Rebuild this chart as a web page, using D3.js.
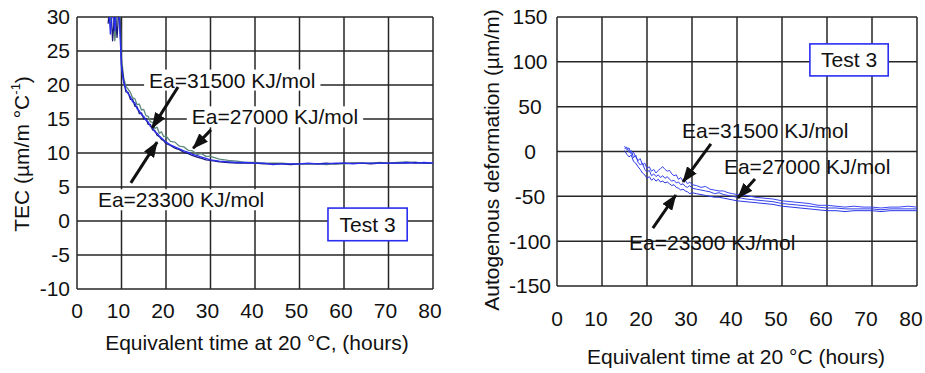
<!DOCTYPE html>
<html>
<head>
<meta charset="utf-8">
<script src="https://cdn.jsdelivr.net/npm/d3@7"></script>
<style>
body { margin: 0; background: #fff; }
svg text { font-family: "Liberation Sans", Arial, sans-serif; fill: #111; }
</style>
</head>
<body>
<div id="chart"></div>
<script>
// ---- left panel: TEC vs equivalent time ----
var tecHours = [7,7.5,8,8.5,9,9.5,10,10.5,11,11.5,12,12.5,13,13.5,14,14.5,15,15.5,16,16.5,17,17.5,18,18.5,19,19.5,20,
    21,22,23,24,25,26,27,28,29,30,
    32,34,36,38,40,42,44,46,48,50,52,54,56,58,60,62,64,66,68,70,72,74,76,78,80];
var tecEa31500 = [33,27.5,32,28,33,30,22.5,20.4,19.3,18.7,18.3,17.5,17.4,16.5,16.2,15.6,15.4,14.8,14.6,13.9,13.7,13.1,12.9,12.5,12.2,11.9,11.6,
    11.2,10.9,10.6,10.3,10.1,9.8,9.6,9.4,9.2,9.0,
    8.8,8.7,8.6,8.6,8.5,8.5,8.3,8.4,8.4,8.4,8.5,8.4,8.4,8.5,8.5,8.4,8.5,8.5,8.5,8.5,8.5,8.6,8.5,8.6,8.5];
var tecEa23300 = [29,33,26.5,31,27,32,23,20.6,19.0,18.9,17.9,17.9,16.9,16.8,15.8,15.9,15.0,15.1,14.2,14.2,13.4,13.3,12.6,12.4,12.0,11.8,11.4,
    11.1,10.7,10.5,10.1,9.9,9.6,9.4,9.2,9.0,8.9,
    8.7,8.6,8.5,8.5,8.5,8.4,8.4,8.4,8.3,8.4,8.4,8.4,8.5,8.4,8.5,8.5,8.5,8.4,8.5,8.5,8.5,8.5,8.6,8.5,8.5];
var tecEa27000 = [31,29,34,26.5,30,34,24,21,19.8,19.4,18.9,18.1,18.0,17.1,17.2,16.3,16.4,15.5,15.4,14.6,14.5,13.6,13.8,12.9,13.1,12.4,12.5,
    11.7,11.6,11.0,10.9,10.4,10.3,9.8,9.9,9.5,9.5,
    9.1,8.9,8.8,8.6,8.6,8.5,8.5,8.5,8.4,8.4,8.4,8.4,8.3,8.4,8.4,8.5,8.5,8.5,8.6,8.5,8.6,8.7,8.6,8.5,8.5];
var tecTicksY = [-10,-5,0,5,10,15,20,25,30];

// ---- right panel: autogenous deformation ----
var adHours = [15,15.5,16,16.5,17,17.5,18,18.5,19,19.5,20,20.5,21,21.5,22,22.5,23,23.5,24,24.5,25,25.5,26,26.5,27,27.5,28,28.5,29,29.5,30,
    31,32,33,34,35,36,37,38,39,40,
    42,44,46,48,50,52,54,56,58,60,62,64,66,68,70,72,74,76,78,80];
var adEa31500 = [6,2,4,-3,-1,-6,-10,-8,-15,-13,-19,-17,-22,-20,-24,-21,-19,-17,-20,-22,-21,-25,-27,-26,-31,-29,-33,-32,-36,-34,-37,
    -38,-40,-39,-42,-43,-44,-44,-46,-47,-48,
    -49,-51,-52,-53,-55,-56,-57,-58,-60,-60,-61,-62,-61,-62,-62,-63,-62,-62,-61,-62];
var adEa27000 = [3,5,-1,1,-7,-4,-12,-15,-13,-20,-23,-21,-27,-25,-28,-26,-29,-27,-30,-28,-31,-33,-32,-35,-34,-37,-36,-39,-40,-38,-41,
    -42,-43,-44,-45,-47,-46,-48,-49,-50,-51,
    -53,-54,-55,-56,-58,-59,-60,-61,-62,-63,-63,-64,-64,-64,-64,-65,-64,-64,-64,-64];
var adEa23300 = [1,-3,-6,-4,-11,-13,-17,-20,-24,-26,-30,-28,-32,-30,-33,-31,-34,-33,-35,-34,-36,-38,-37,-40,-41,-43,-42,-44,-45,-47,-46,
    -47,-48,-49,-50,-51,-51,-52,-53,-54,-55,
    -56,-57,-58,-59,-61,-62,-63,-64,-65,-66,-66,-67,-66,-66,-66,-67,-66,-66,-66,-66];
var adTicksY = [-150,-100,-50,0,50,100,150];

var hourTicks = [0,10,20,30,40,50,60,70,80];
var eaLabels = ["Ea=31500 KJ/mol", "Ea=27000 KJ/mol", "Ea=23300 KJ/mol"];

function init(){
    var W = 925, H = 373;
    var svg = d3.select("#chart")
                .append("svg")
                .attr("width", W)
                .attr("height", H);

    var defs = svg.append("defs");
    defs.append("marker")
        .attr("id", "head")
        .attr("markerUnits", "userSpaceOnUse")
        .attr("viewBox", "0 0 16 12")
        .attr("refX", 15).attr("refY", 6)
        .attr("markerWidth", 16).attr("markerHeight", 12)
        .attr("orient", "auto")
        .append("path")
        .attr("d", "M0,0 L16,6 L0,12 Z")
        .attr("fill", "#111");

    function panel(p) {
        var g = svg.append("g");
        var x = d3.scaleLinear().domain([0, 80]).range([p.left, p.right]);
        var y = d3.scaleLinear().domain(p.yDomain).range([p.bottom, p.top]);

        defs.append("clipPath").attr("id", p.id)
            .append("rect")
            .attr("x", p.left).attr("y", p.top)
            .attr("width", p.right - p.left).attr("height", p.bottom - p.top);

        // grid
        g.selectAll(".vg").data(hourTicks).enter().append("line")
            .attr("x1", function(d) { return x(d); })
            .attr("x2", function(d) { return x(d); })
            .attr("y1", p.top).attr("y2", p.bottom)
            .attr("stroke", "#262626").attr("stroke-width", 1.5);
        g.selectAll(".hg").data(p.yTicks).enter().append("line")
            .attr("y1", function(d) { return y(d); })
            .attr("y2", function(d) { return y(d); })
            .attr("x1", p.left).attr("x2", p.right)
            .attr("stroke", "#262626").attr("stroke-width", 1.5);

        // tick labels
        g.selectAll(".xl").data(hourTicks).enter().append("text")
            .attr("x", function(d) { return x(d) + (d > 0 ? p.xLabelShift : 0); })
            .attr("y", p.xLabelY)
            .attr("dy", "0.35em")
            .attr("text-anchor", "middle")
            .attr("font-size", 21)
            .text(function(d) { return d; });
        g.selectAll(".yl").data(p.yTicks).enter().append("text")
            .attr("x", p.yLabelX)
            .attr("y", function(d) { return y(d); })
            .attr("dy", "0.35em")
            .attr("text-anchor", p.yLabelAnchor)
            .attr("font-size", 21)
            .text(function(d) { return d; });

        // x title
        g.append("text")
            .attr("x", p.xTitleX).attr("y", p.xTitleY)
            .attr("dy", "0.35em")
            .attr("text-anchor", "middle")
            .attr("font-size", 21)
            .text(p.xTitle);

        // label backgrounds + labels
        p.notes.forEach(function(n, i) {
            var t = g.append("text")
                .attr("x", x(n.t)).attr("y", y(n.v))
                .attr("dy", "0.35em")
                .attr("font-size", 21)
                .text(eaLabels[i]);
            if (p.noteBg) {
                var bb = t.node().getBBox();
                g.insert("rect", function() { return t.node(); })
                    .attr("x", bb.x - 5).attr("y", bb.y + 1)
                    .attr("width", bb.width + 10).attr("height", bb.height - 2)
                    .attr("fill", "#fff");
            }
        });

        // curves
        var line = d3.line()
            .x(function(d) { return x(d[0]); })
            .y(function(d) { return y(d[1]); });
        var cg = g.append("g").attr("clip-path", "url(#" + p.id + ")");
        p.series.forEach(function(s) {
            cg.append("path")
                .datum(d3.zip(p.hours, s.values))
                .attr("d", line)
                .attr("fill", "none")
                .attr("stroke", s.color)
                .attr("stroke-width", s.width)
                .attr("stroke-linejoin", "round");
        });

        // arrows
        p.arrows.forEach(function(a) {
            g.append("line")
                .attr("x1", x(a[0])).attr("y1", y(a[1]))
                .attr("x2", x(a[2])).attr("y2", y(a[3]))
                .attr("stroke", "#111").attr("stroke-width", 3)
                .attr("marker-end", "url(#head)");
        });

        // Test 3 box
        g.append("rect")
            .attr("x", x(p.box[0])).attr("y", y(p.box[1]))
            .attr("width", x(p.box[2]) - x(p.box[0]))
            .attr("height", y(p.box[3]) - y(p.box[1]))
            .attr("fill", "#fff")
            .attr("stroke", "#2a2ef0").attr("stroke-width", 1.6);
        g.append("text")
            .attr("x", (x(p.box[0]) + x(p.box[2])) / 2)
            .attr("y", (y(p.box[1]) + y(p.box[3])) / 2)
            .attr("dy", "0.35em")
            .attr("text-anchor", "middle")
            .attr("font-size", 21)
            .text("Test 3");

        return g;
    }

    panel({
        id: "clipL", left: 77, right: 433, top: 17, bottom: 289,
        yDomain: [-10, 30], yTicks: tecTicksY,
        hours: tecHours,
        series: [
            {values: tecEa27000, color: "#5e8a7a", width: 1.3},
            {values: tecEa23300, color: "#1c1c78", width: 1.3},
            {values: tecEa31500, color: "#2a2ff0", width: 1.3}
        ],
        xLabelY: 311, xLabelShift: -3,
        yLabelX: 70, yLabelAnchor: "end",
        xTitle: "Equivalent time at 20 \u00B0C, (hours)", xTitleX: 257, xTitleY: 343,
        noteBg: true,
        notes: [{t: 16.2, v: 20.7}, {t: 25.8, v: 15.3}, {t: 4.7, v: 3.1}],
        arrows: [[22.7, 19.7, 16.9, 13.7], [30.1, 13.4, 26.1, 10.7], [12.1, 5.6, 18.0, 11.6]],
        box: [56.4, 1.9, 74.2, -2.9]
    });

    panel({
        id: "clipR", left: 557, right: 917, top: 17, bottom: 286,
        yDomain: [-150, 150], yTicks: adTicksY,
        hours: adHours,
        series: [
            {values: adEa27000, color: "#3340ea", width: 1},
            {values: adEa23300, color: "#2a36e6", width: 1},
            {values: adEa31500, color: "#3a46f0", width: 1}
        ],
        xLabelY: 319, xLabelShift: -6,
        yLabelX: 530, yLabelAnchor: "middle",
        xTitle: "Equivalent time at 20 \u00B0C (hours)", xTitleX: 736, xTitleY: 357,
        noteBg: false,
        notes: [{t: 27.8, v: 22.9}, {t: 37.1, v: -17.3}, {t: 16.0, v: -102}],
        arrows: [[34.2, 8.4, 28.0, -34], [44.0, -30.7, 40.2, -51.9], [21.3, -85.4, 26.4, -48.5]],
        box: [56.2, 120, 73.6, 84.3]
    });

    // y titles (rotated)
    var lt = svg.append("text")
        .attr("transform", "translate(22,154) rotate(-90)")
        .attr("dy", "0.35em")
        .attr("text-anchor", "middle")
        .attr("font-size", 21);
    lt.append("tspan").text("TEC (\u00B5m/m \u00B0C");
    lt.append("tspan").attr("font-size", 13).attr("dy", "-0.75em").text("-1");
    lt.append("tspan").attr("dy", "0.5em").text(")");

    svg.append("text")
        .attr("transform", "translate(492,160) rotate(-90)")
        .attr("dy", "0.35em")
        .attr("text-anchor", "middle")
        .attr("font-size", 21)
        .text("Autogenous deformation (\u00B5m/m)");
}

window.onload = init;
</script>
</body>
</html>
